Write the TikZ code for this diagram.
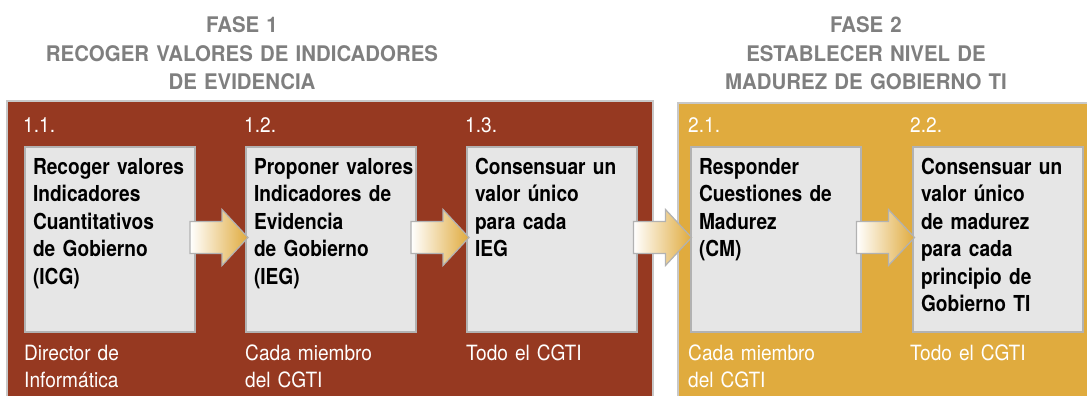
\documentclass[tikz,border=0pt]{standalone}
\usepackage{fontspec}
\setmainfont{TeX Gyre Heros}
\newfontfamily\cajafont[FakeStretch=0.87]{TeX Gyre Heros}
\newfontfamily\etiqfont[FakeStretch=0.91]{TeX Gyre Heros}
\newfontfamily\titfont[FakeStretch=0.95]{TeX Gyre Heros}
\usetikzlibrary{positioning,calc}

\definecolor{rojo}{RGB}{150,57,33}
\definecolor{oro}{RGB}{224,171,62}
\definecolor{grisclaro}{RGB}{230,230,230}
\definecolor{grisborde}{RGB}{178,178,178}
\definecolor{grismarco}{RGB}{200,200,200}
\definecolor{gristit}{RGB}{127,127,127}

% flecha gruesa entre dos cajas
\newcommand{\flecha}[2]{%
  \begin{scope}[shift={($(#1.east)!0.5!(#2.west)+(-1.5,-2)$)}]
    \shadedraw[flecha] (-29,-16) -- (3,-16) -- (3,-28) -- (29,0)
      -- (3,28) -- (3,16) -- (-29,16) -- cycle;
  \end{scope}}

\begin{document}
\begin{tikzpicture}[x=1pt, y=-1pt,
        fase/.style={draw=grismarco, line width=2pt, anchor=north west, outer sep=0pt},
        caja/.style={draw=grisborde, line width=1.2pt, fill=grisclaro, anchor=north west,
          font=\cajafont\bfseries\fontsize{22pt}{27.5pt}\selectfont,
          align=left, text width=154pt, inner xsep=8pt, inner ysep=10pt,
          text height=17pt, text depth=148pt, outer sep=0pt},
        num/.style={anchor=base west, inner sep=0pt, text=white,
          font=\etiqfont\fontsize{21pt}{27pt}\selectfont},
        quien/.style={num, text width=170pt, align=left},
        titulo/.style={anchor=base, text=gristit, align=center, inner sep=0pt,
          font=\titfont\bfseries\fontsize{21.5pt}{28.5pt}\selectfont},
        flecha/.style={draw=grisborde, line width=1.2pt, left color=white, right color=oro}]
    \useasboundingbox (0,0) rectangle (1087,396);
    \clip (0,0) rectangle (1087,396);

    % fases
    \node[fase, fill=rojo, minimum width=646pt, minimum height=310pt] (f1) at (7,101) {};
    \node[fase, fill=oro, minimum width=420pt, minimum height=310pt] (f2) at (678,103) {};
    \node[titulo, text width=440pt] (t1) at (242,33) {FASE 1\\RECOGER VALORES DE INDICADORES\\DE EVIDENCIA};
    \node[titulo, text width=400pt] (t2) at (866,33) {FASE 2\\ESTABLECER NIVEL DE\\MADUREZ DE GOBIERNO TI};

    % actividades
    \node[caja] (c11) at (25,147) {Recoger valores\\Indicadores\\Cuantitativos\\de Gobierno\\(ICG)};
    \node[caja, right=51pt of c11] (c12) {\mbox{Proponer valores}\\Indicadores de\\Evidencia\\de Gobierno\\(IEG)};
    \node[caja, right=51pt of c12] (c13) {Consensuar un\\valor único\\para cada\\IEG};
    \node[caja] (c21) at (691,147) {Responder\\Cuestiones de\\Madurez\\(CM)};
    \node[caja, right=52pt of c21] (c22) {Consensuar un\\valor único\\de madurez\\para cada\\principio de\\Gobierno TI};

    % numeros
    \node[num] (n11) at ($(c11.north west)+(-2,-15)$) {1.1.};
    \node[num] (n12) at ($(c12.north west)+(-2,-15)$) {1.2.};
    \node[num] (n13) at ($(c13.north west)+(-2,-15)$) {1.3.};
    \node[num] (n21) at ($(c21.north west)+(-3,-15)$) {2.1.};
    \node[num] (n22) at ($(c22.north west)+(-3,-15)$) {2.2.};

    % responsables
    \node[quien] (r11) at ($(c11.south west)+(-1,28)$) {Director de\\Informática};
    \node[quien] (r12) at ($(c12.south west)+(-1,28)$) {Cada miembro\\del CGTI};
    \node[quien] (r13) at ($(c13.south west)+(-1,28)$) {Todo el CGTI};
    \node[quien] (r21) at ($(c21.south west)+(-3,28)$) {Cada miembro\\del CGTI};
    \node[quien] (r22) at ($(c22.south west)+(-3,28)$) {Todo el CGTI};

    \flecha{c11}{c12}
    \flecha{c12}{c13}
    \flecha{c13}{c21}
    \flecha{c21}{c22}
\end{tikzpicture}
\end{document}
